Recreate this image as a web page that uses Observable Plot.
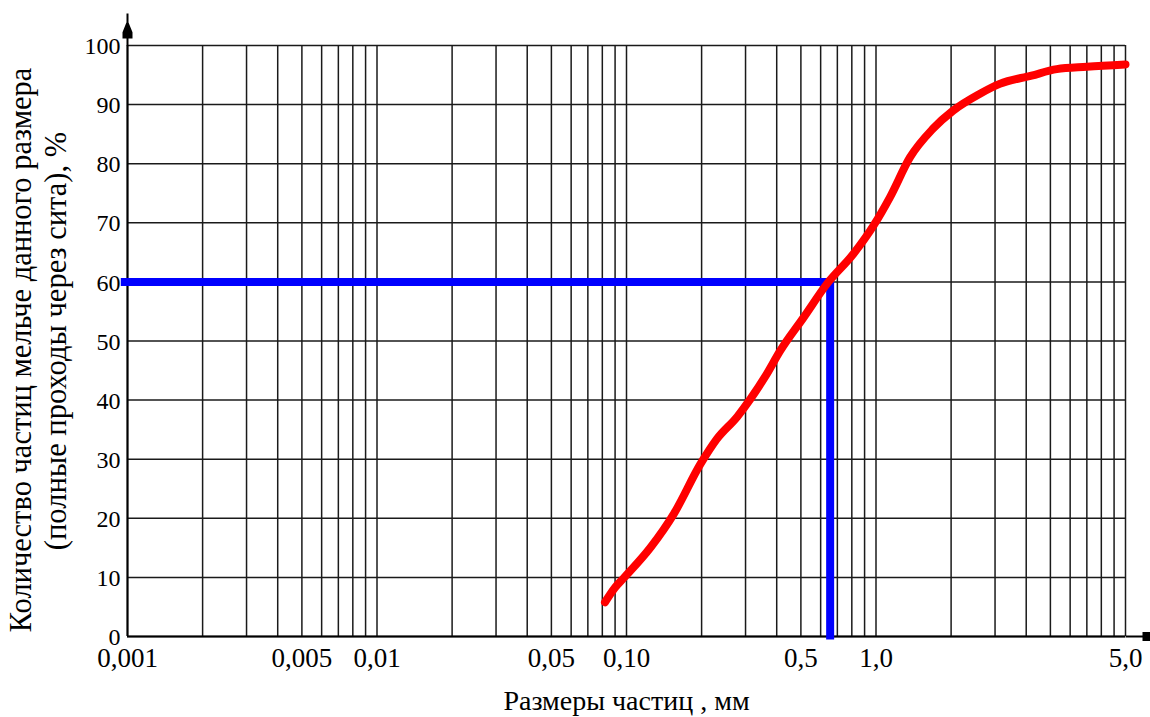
<!DOCTYPE html>
<html>
<head>
<meta charset="utf-8">
<script src="https://cdn.jsdelivr.net/npm/d3@7"></script>
<script src="https://cdn.jsdelivr.net/npm/@observablehq/plot@0.6"></script>
<style>
  html, body { margin: 0; padding: 0; background: #fff; }
  svg text { font-family: "Liberation Serif", "Times New Roman", serif; }
</style>
</head>
<body>
<div id="chart"></div>
<script>
// Particle size (mm) vs cumulative passing (%)
const sizeMm =     [0.082, 0.09, 0.098, 0.125, 0.155, 0.198, 0.23, 0.278, 0.314, 0.36, 0.414, 0.513, 0.637, 0.814, 0.98, 1.14, 1.37, 1.69, 2.04, 2.6, 3.13, 4.2, 5.3, 7.0, 10];
const passingPct = [5.8,   8.3,  10,    15.1,  20.8,  29.2,  33.4, 37.2,  40.2,  44,   48.4,  54,    59.7,  64.8,  69.6, 74.4, 81.1, 85.9, 89,   91.8, 93.5, 94.9, 96.0, 96.4, 96.8];

// Reading of d60 (blue guide)
const guideSize = 0.655;
const guidePct = 60;
const guideStartSize = 0.00094;
const guideEndPct = -0.5;

// Axis ticks
const xTickValues = [0.001, 0.005, 0.01, 0.05, 0.1, 0.5, 1, 10];
const xTickLabels = ["0,001", "0,005", "0,01", "0,05", "0,10", "0,5", "1,0", "5,0"];
const yTickValues = [0, 10, 20, 30, 40, 50, 60, 70, 80, 90, 100];
const xGridValues = [
  0.001, 0.002, 0.003, 0.004, 0.005, 0.006, 0.007, 0.008, 0.009,
  0.01, 0.02, 0.03, 0.04, 0.05, 0.06, 0.07, 0.08, 0.09,
  0.1, 0.2, 0.3, 0.4, 0.5, 0.6, 0.7, 0.8, 0.9,
  1, 2, 3, 4, 5, 6, 7, 8, 9, 10
];

const xTitle = "Размеры частиц , мм";
const yTitleLine1 = "Количество частиц мельче данного размера";
const yTitleLine2 = "(полные проходы через сита), %";

const curve = sizeMm.map((s, i) => ({size: s, pct: passingPct[i]}));
const guide = [
  {size: guideStartSize, pct: guidePct},
  {size: guideSize, pct: guidePct},
  {size: guideSize, pct: guideEndPct}
];

// decorative axis-end symbols
const upArrow = {
  draw(ctx) {
    ctx.moveTo(0, 0); ctx.lineTo(0, -32);
    ctx.moveTo(0, -23); ctx.lineTo(4, -13); ctx.lineTo(4, -8);
    ctx.lineTo(-4, -8); ctx.lineTo(-4, -13); ctx.closePath();
  }
};
const rightEnd = {
  draw(ctx) {
    ctx.moveTo(0, 0); ctx.lineTo(20, 0);
    ctx.moveTo(18, -3.5); ctx.lineTo(25, -3.5); ctx.lineTo(25, 3.5);
    ctx.lineTo(18, 3.5); ctx.closePath();
  }
};

const gridColor = "#1a1a1a";
const serif = "Liberation Serif";

const chart = Plot.plot({
  width: 1150,
  height: 717,
  marginLeft: 127,
  marginRight: 25,
  marginTop: 45,
  marginBottom: 81,
  style: {fontFamily: serif, background: "#fff", color: "#000"},
  x: {type: "log", domain: [0.001, 10], axis: null},
  y: {domain: [0, 100], axis: null},
  marks: [
    Plot.ruleX(xGridValues, {stroke: gridColor, strokeWidth: 1.5}),
    Plot.ruleY(yTickValues, {stroke: gridColor, strokeWidth: 1.5}),
    Plot.ruleX([xGridValues[0]], {stroke: "#000", strokeWidth: 2}),
    Plot.ruleY([0], {stroke: "#000", strokeWidth: 2}),
    Plot.dot([0], {x: () => xGridValues[0], y: () => 100, symbol: upArrow, fill: "#000", stroke: "#000", strokeWidth: 2}),
    Plot.dot([0], {x: () => xGridValues[xGridValues.length - 1], y: () => 0, symbol: rightEnd, fill: "#000", stroke: "#000", strokeWidth: 2}),
    Plot.line(guide, {x: "size", y: "pct", stroke: "#0000ff", strokeWidth: 8, strokeLinejoin: "miter", strokeLinecap: "butt"}),
    Plot.line(curve, {x: "size", y: "pct", stroke: "#ff0000", strokeWidth: 8, curve: "monotone-x", strokeLinecap: "round", strokeLinejoin: "round"}),
    Plot.text(xTickValues, {x: d => d, text: (d, i) => xTickLabels[i], frameAnchor: "bottom", lineAnchor: "middle", textAnchor: "middle", dy: 22, fontSize: 27, fontFamily: serif, fill: "#000"}),
    Plot.text(yTickValues, {y: d => d, text: d => String(d), frameAnchor: "left", textAnchor: "end", lineAnchor: "middle", dx: -7, dy: 1, fontSize: 24, fontFamily: serif, fill: "#000"}),
    Plot.text([xTitle], {text: d => d, frameAnchor: "bottom", lineAnchor: "middle", textAnchor: "middle", dy: 65, fontSize: 28, fontFamily: serif, fill: "#000"}),
    Plot.text([yTitleLine1], {text: d => d, frameAnchor: "left", textAnchor: "middle", lineAnchor: "middle", rotate: -90, dx: -106, dy: 9, fontSize: 30.5, fontFamily: serif, fill: "#000"}),
    Plot.text([yTitleLine2], {text: d => d, frameAnchor: "left", textAnchor: "middle", lineAnchor: "middle", rotate: -90, dx: -71, dy: 0, fontSize: 30.5, fontFamily: serif, fill: "#000"})
  ]
});

document.getElementById("chart").appendChild(chart);
</script>
</body>
</html>
